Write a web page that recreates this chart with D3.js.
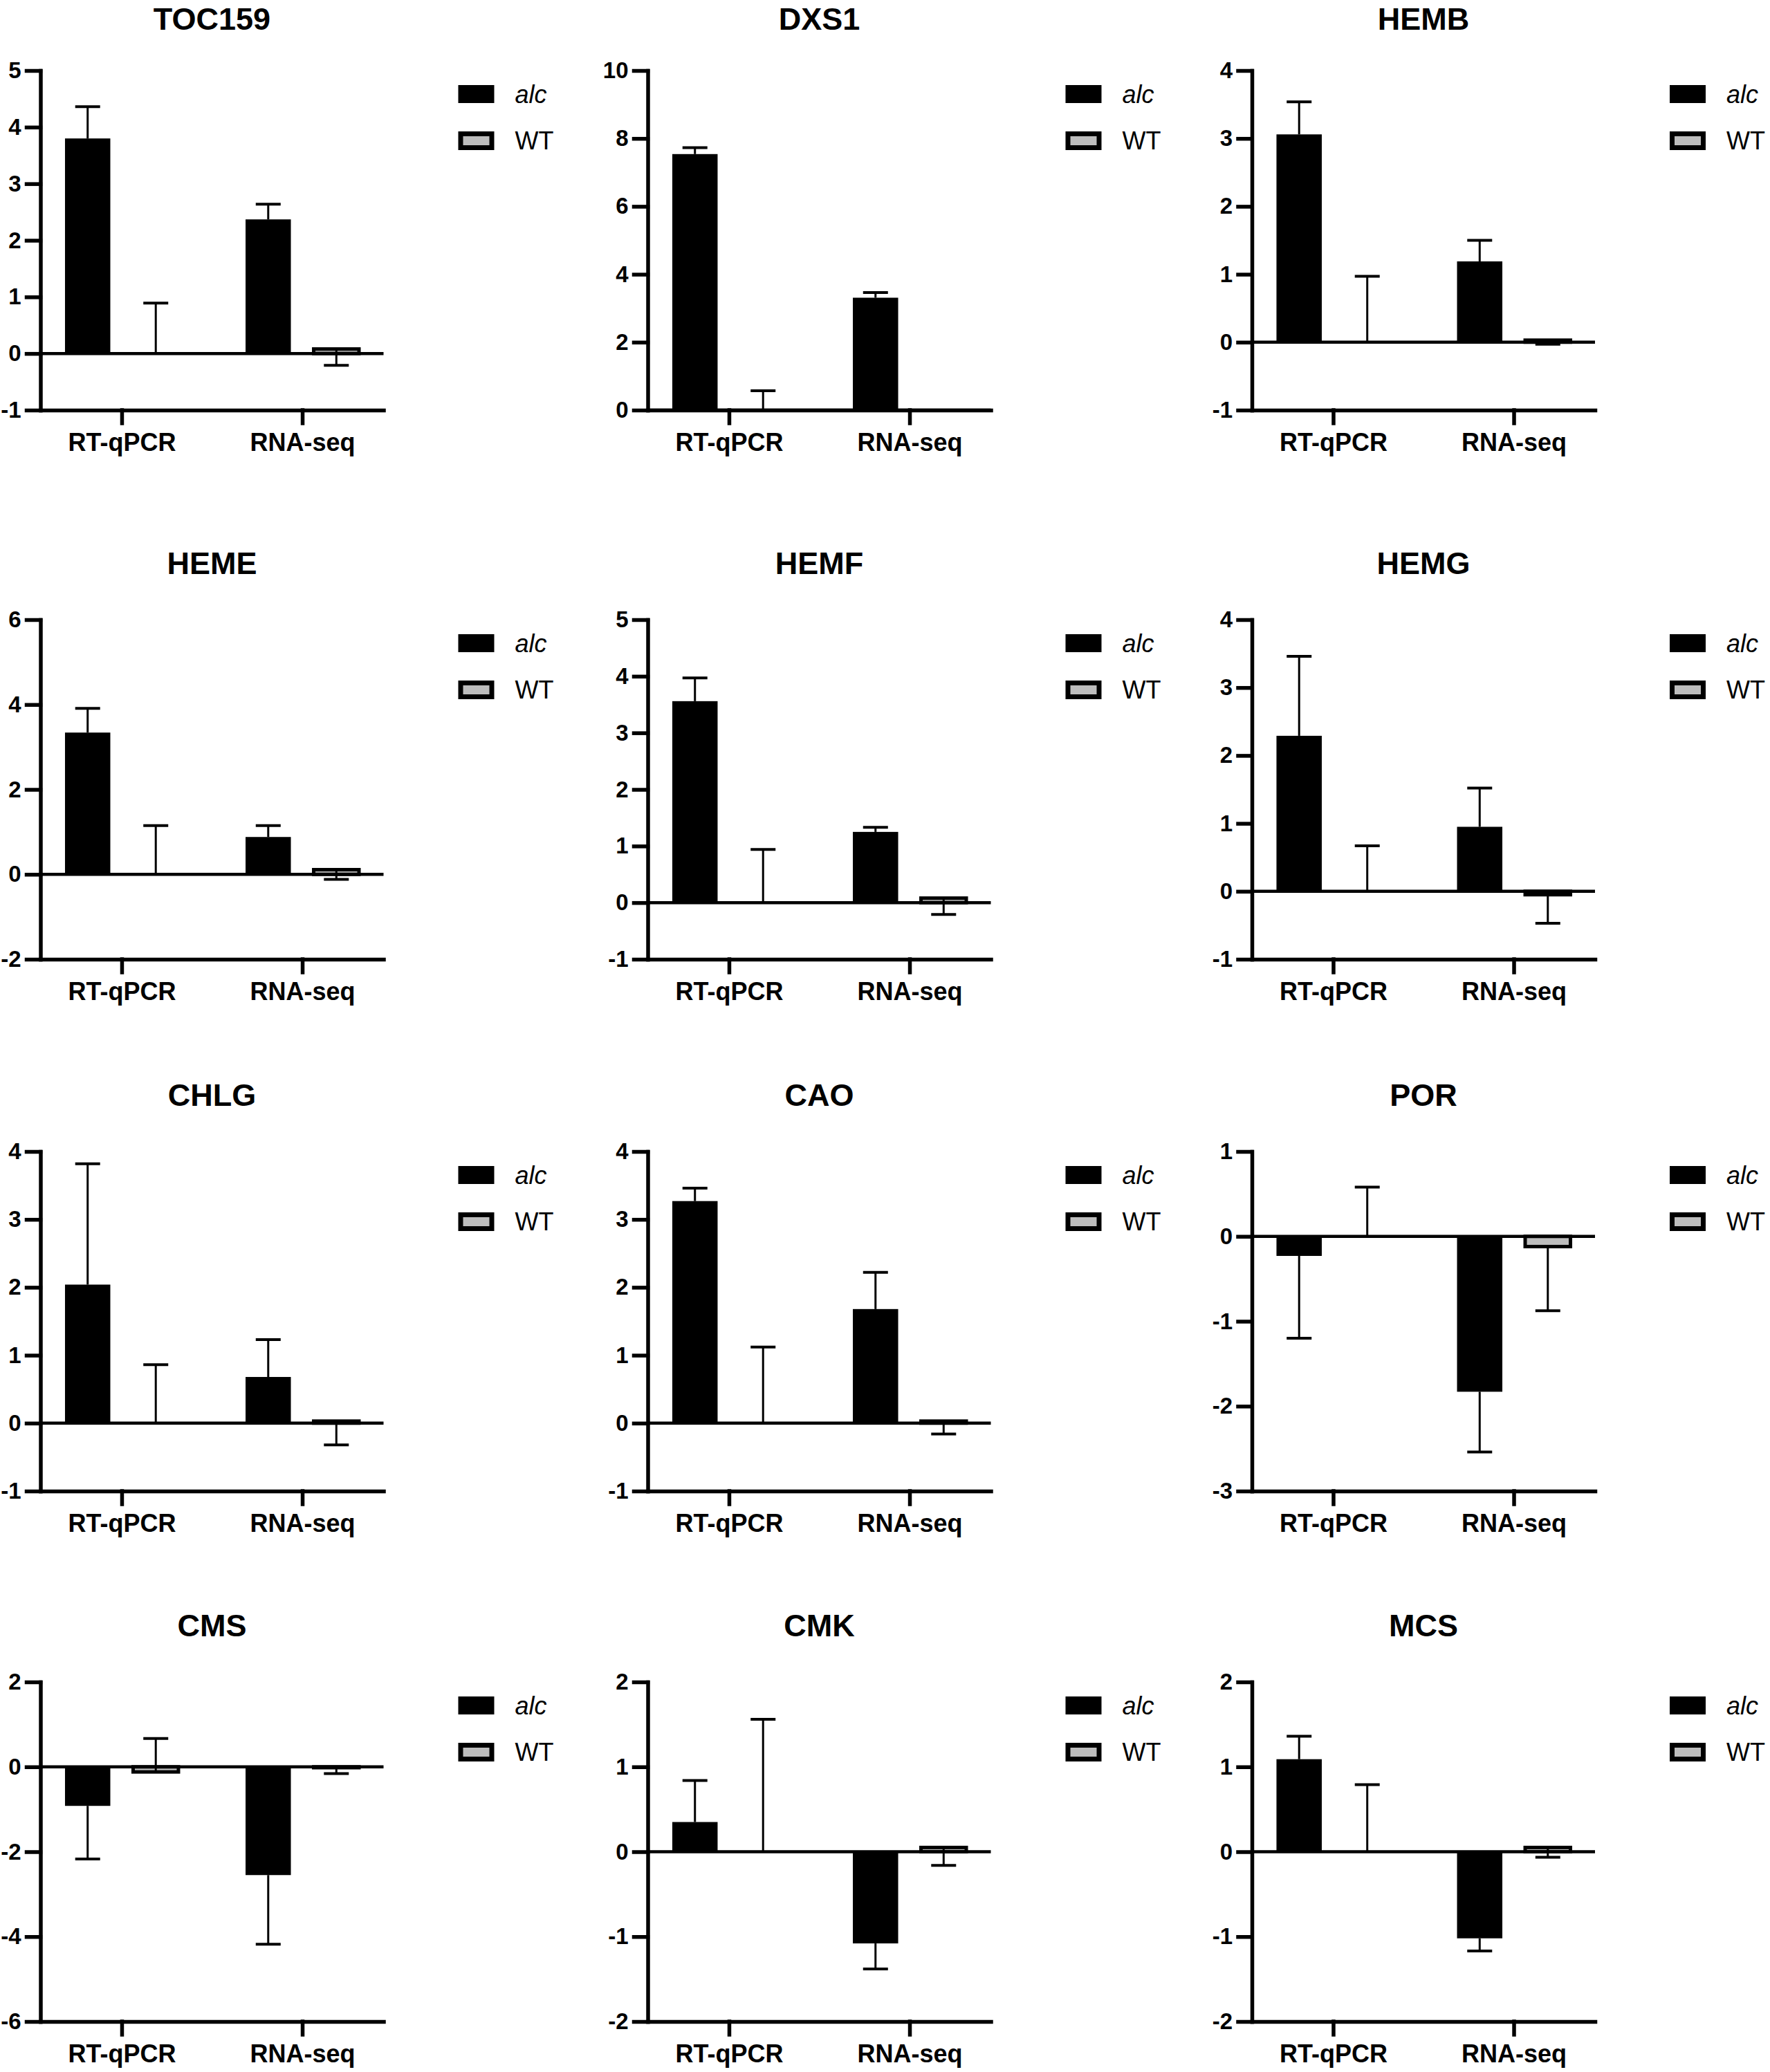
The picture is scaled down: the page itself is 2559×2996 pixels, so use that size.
<!DOCTYPE html>
<html>
<head>
<meta charset="utf-8">
<script src="https://cdn.jsdelivr.net/npm/d3@7"></script>
<style>
  body { margin: 0; background: #fff; }
  text { font-family: "Liberation Sans", Arial, sans-serif; fill: #000; }
</style>
</head>
<body>
<div id="chart"></div>
<script>
var genes = ["TOC159", "DXS1", "HEMB", "HEME", "HEMF", "HEMG", "CHLG", "CAO", "POR", "CMS", "CMK", "MCS"];
var methods = ["RT-qPCR", "RNA-seq"];
var groups = ["alc", "WT"];

// axis range per gene
var yMin = [-1, 0, -1, -2, -1, -1, -1, -1, -3, -6, -2, -2];
var yMax = [5, 10, 4, 6, 5, 4, 4, 4, 1, 2, 2, 2];
var yStep = [1, 2, 1, 2, 1, 1, 1, 1, 1, 2, 1, 1];

// [RT-qPCR, RNA-seq] per gene; errors are signed (drawn from the bar end)
var alcValues = [[3.80, 2.37], [7.54, 3.31], [3.06, 1.19], [3.34, 0.88], [3.56, 1.25], [2.29, 0.95],
                 [2.04, 0.68], [3.27, 1.68], [-0.23, -1.83], [-0.92, -2.55], [0.35, -1.08], [1.09, -1.02]];
var alcErrors = [[0.56, 0.27], [0.19, 0.15], [0.48, 0.31], [0.57, 0.27], [0.41, 0.08], [1.17, 0.57],
                 [1.78, 0.55], [0.19, 0.54], [-0.97, -0.71], [-1.25, -1.63], [0.49, -0.30], [0.27, -0.15]];
var wtValues = [[0, 0.08], [0, 0], [0, 0.03], [0, 0.11], [0, 0.08], [0, -0.05],
                [0, 0.03], [0, 0.03], [0, -0.12], [-0.12, -0.02], [0, 0.05], [0, 0.05]];
var wtErrors = [[0.89, -0.29], [0.57, 0], [0.97, -0.06], [1.15, -0.23], [0.94, -0.29], [0.67, -0.42],
                [0.86, -0.35], [1.12, -0.19], [0.58, -0.755], [0.79, -0.14], [1.56, -0.21], [0.79, -0.115]];

var width = 2559, height = 2996;
var plot = {width: 496, height: 491};
var colX = [58.5, 936.5, 1810];
var rowY = [102, 896, 1665, 2432];
var wtFill = "#bdbdbd";

var svg = d3.select("#chart")
  .append("svg")
  .attr("width", width)
  .attr("height", height);

genes.forEach(function(gene, i) {
  drawPanel(i);
});

function drawPanel(i)
{
  var top = rowY[Math.floor(i / 3)];
  var g = svg.append("g")
    .attr("transform", "translate(" + colX[i % 3] + "," + top + ")");

  var y = d3.scaleLinear().domain([yMin[i], yMax[i]]).range([plot.height, 0]);
  var x = d3.scalePoint().domain(methods).range([0, plot.width]).padding(0.45);
  var xSub = d3.scaleBand().domain(groups).range([-82, 82]).paddingInner(0.335);

  var rows = [];
  methods.forEach(function(m, j) {
    rows.push({method: m, group: "alc", value: alcValues[i][j], err: alcErrors[i][j]});
    rows.push({method: m, group: "WT", value: wtValues[i][j], err: wtErrors[i][j]});
  });

  // bars
  g.selectAll(".bar")
    .data(rows)
    .enter().append("rect")
    .attr("class", "bar")
    .attr("x", function(d) { return x(d.method) + xSub(d.group); })
    .attr("y", function(d) { return y(Math.max(0, d.value)); })
    .attr("width", xSub.bandwidth())
    .attr("height", function(d) { return Math.abs(y(d.value) - y(0)); })
    .attr("fill", function(d) { return d.group == "alc" ? "#000" : wtFill; })
    .attr("stroke", "#000")
    .attr("stroke-width", function(d) { return d.group == "alc" ? 0 : 5; });

  // error bars (one-sided)
  var errs = rows.filter(function(d) { return d.err != 0; });
  var cx = function(d) { return x(d.method) + xSub(d.group) + xSub.bandwidth() / 2; };

  g.selectAll(".err")
    .data(errs)
    .enter().append("line")
    .attr("class", "err")
    .attr("x1", cx).attr("x2", cx)
    .attr("y1", function(d) { return y(d.value); })
    .attr("y2", function(d) { return y(d.value + d.err); })
    .attr("stroke", "#000")
    .attr("stroke-width", 3);

  g.selectAll(".cap")
    .data(errs)
    .enter().append("line")
    .attr("class", "cap")
    .attr("x1", function(d) { return cx(d) - 18; })
    .attr("x2", function(d) { return cx(d) + 18; })
    .attr("y1", function(d) { return y(d.value + d.err); })
    .attr("y2", function(d) { return y(d.value + d.err); })
    .attr("stroke", "#000")
    .attr("stroke-width", 4);

  // zero line
  g.append("line")
    .attr("x1", 0).attr("x2", plot.width)
    .attr("y1", y(0)).attr("y2", y(0))
    .attr("stroke", "#000")
    .attr("stroke-width", 4.5);

  // axes
  var yAxis = d3.axisLeft(y)
    .tickValues(d3.range(yMin[i], yMax[i] + yStep[i] / 2, yStep[i]))
    .tickSize(20)
    .tickSizeOuter(0)
    .tickPadding(8)
    .tickFormat(function(d) { return String(d); });

  var ya = g.append("g").call(yAxis)
    .attr("font-size", 33)
    .attr("font-weight", "bold");
  ya.selectAll("path, line").attr("stroke-width", 5.5).attr("stroke-linecap", "square");

  var xAxis = d3.axisBottom(x)
    .tickSize(19)
    .tickSizeOuter(0)
    .tickPadding(14);

  var xa = g.append("g")
    .attr("transform", "translate(0," + plot.height + ")")
    .call(xAxis)
    .attr("font-size", 36)
    .attr("font-weight", "bold");
  xa.selectAll("path, line").attr("stroke-width", 5.5).attr("stroke-linecap", "square");

  // title (kept inside the page on the first row)
  g.append("text")
    .text(genes[i])
    .attr("x", plot.width / 2)
    .attr("y", Math.max(-66, 43 - top))
    .attr("text-anchor", "middle")
    .attr("font-size", 45)
    .attr("font-weight", "bold");

  // legend
  var leg = g.append("g").attr("transform", "translate(604,0)");
  leg.append("rect")
    .attr("x", 0).attr("y", 21)
    .attr("width", 52).attr("height", 26)
    .attr("fill", "#000");
  leg.append("rect")
    .attr("x", 3.5).attr("y", 91.5)
    .attr("width", 45).attr("height", 20)
    .attr("fill", wtFill)
    .attr("stroke", "#000")
    .attr("stroke-width", 7);
  leg.append("text")
    .text("alc")
    .attr("x", 82).attr("y", 47)
    .attr("font-size", 36)
    .attr("font-style", "italic");
  leg.append("text")
    .text("WT")
    .attr("x", 82).attr("y", 114)
    .attr("font-size", 36);
}
</script>
</body>
</html>
